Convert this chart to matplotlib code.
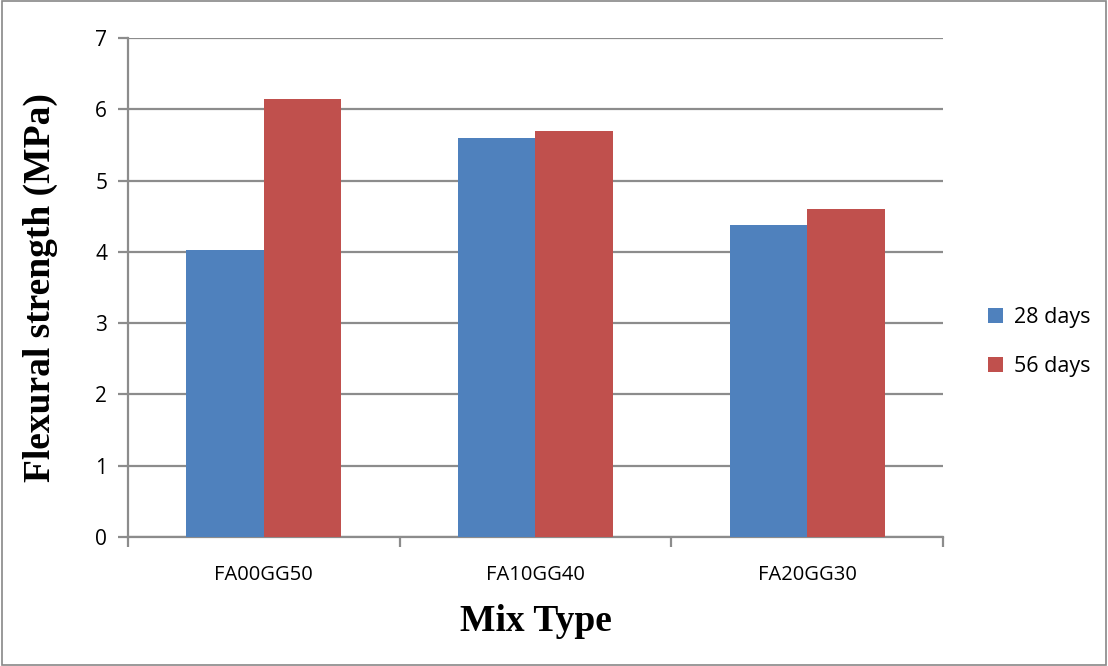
import numpy as np
import matplotlib
matplotlib.use("Agg")
import matplotlib.pyplot as plt
from matplotlib.patches import Rectangle

# Data
mix_types = ["FA00GG50", "FA10GG40", "FA20GG30"]
days_28 = [4.03, 5.60, 4.37]
days_56 = [6.15, 5.70, 4.60]
series_labels = ["28 days", "56 days"]
colors = ["#4F81BD", "#C0504D"]

fig = plt.figure(figsize=(11.08, 6.66), dpi=100)
ax = fig.add_axes([0.1155, 0.1937, 0.7355, 0.7493])

# outer chart border
fig.patches.append(Rectangle((0.002, 0.002), 0.996, 0.996, transform=fig.transFigure,
                             fill=False, edgecolor="#888888", linewidth=1.2))

x = np.arange(len(mix_types))
w = 0.285
ax.bar(x - w / 2, days_28, w, color=colors[0], label=series_labels[0], zorder=3)
ax.bar(x + w / 2, days_56, w, color=colors[1], label=series_labels[1], zorder=3)

ax.set_xlim(-0.5, len(mix_types) - 0.5)
ax.set_ylim(0, 7)
ax.set_yticks(range(0, 8))
ax.grid(axis="y", color="#8c8c8c", linewidth=1.6, zorder=0)

# category boundary ticks
ax.set_xticks(x)
ax.set_xticklabels(mix_types, fontsize=14.5, family="Open Sans")
ax.tick_params(axis="x", length=0, pad=20)
ax.set_xticks(np.arange(-0.5, len(mix_types)), minor=True)
ax.tick_params(axis="x", which="minor", length=7, width=1.6, color="#8c8c8c")
ax.tick_params(axis="y", length=7, width=1.6, color="#8c8c8c", labelsize=15, pad=8)
for lab in ax.get_yticklabels():
    lab.set_family("Open Sans")

for side in ["top", "right"]:
    ax.spines[side].set_visible(False)
for side in ["left", "bottom"]:
    ax.spines[side].set_color("#8c8c8c")
    ax.spines[side].set_linewidth(1.6)

ax.set_xlabel("Mix Type", fontsize=27, fontweight="bold", family="Liberation Serif", labelpad=14)
ax.set_ylabel("Flexural strength (MPa)", fontsize=27, fontweight="bold", family="Liberation Serif", labelpad=27)

ax.legend(loc="center left", bbox_to_anchor=(1.032, 0.39), frameon=False,
          prop={"family": "Open Sans", "size": 15.5}, handlelength=0.7, handleheight=0.7,
          labelspacing=1.3, handletextpad=0.5)

fig.savefig("out.png", dpi=100)
